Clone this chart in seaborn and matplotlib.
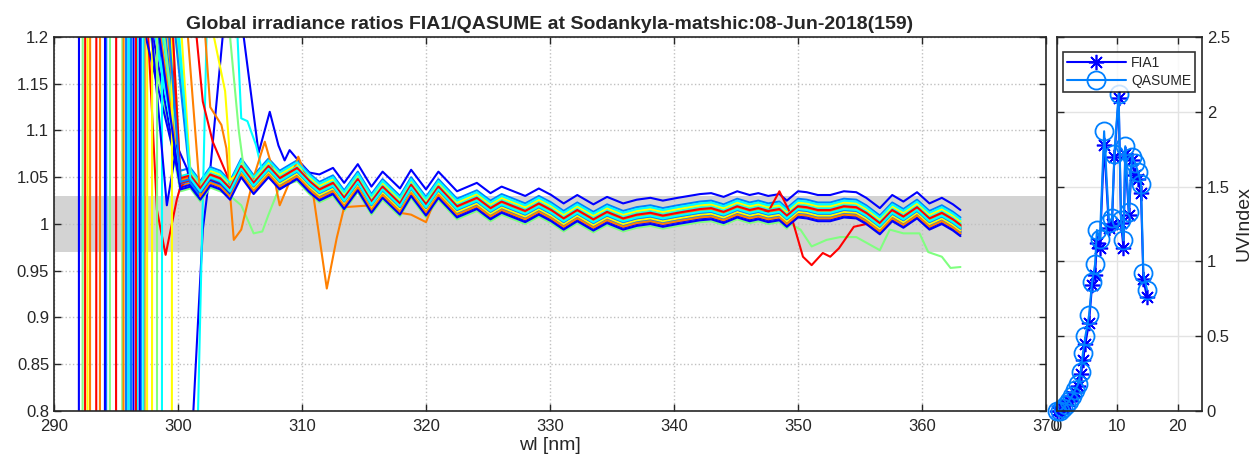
import numpy as np
import pandas as pd
import matplotlib
matplotlib.use("Agg")
import matplotlib.pyplot as plt
import seaborn as sns

# --- spectral ratio data ---
wl_grid = [300.2, 301.0, 301.8, 302.6, 303.4, 304.2, 305.1, 306.1, 307.3, 308.2,
           309.6, 310.6, 311.4, 312.5, 313.4, 314.5, 315.6, 316.5, 317.9, 318.8,
           320.0, 321.0, 322.5, 324.1, 325.2, 326.1, 328.0, 329.1, 330.1, 331.1,
           332.2, 333.5, 334.6, 335.9, 337.0, 338.1, 339.1, 340.3, 342.1, 343.0,
           344.0, 345.1, 346.1, 346.8, 347.6, 348.5, 349.1, 350.0, 350.7, 351.6,
           352.6, 353.7, 354.7, 355.5, 356.6, 357.6, 358.5, 359.6, 360.6, 361.6,
           362.5, 363.1]
ratio_typical = [1.045, 1.048, 1.034, 1.049, 1.045, 1.034, 1.058, 1.040, 1.058, 1.045,
                 1.056, 1.042, 1.033, 1.040, 1.024, 1.044, 1.020, 1.036, 1.018, 1.038,
                 1.017, 1.036, 1.015, 1.024, 1.013, 1.020, 1.010, 1.018, 1.011, 1.002,
                 1.011, 1.001, 1.009, 1.002, 1.006, 1.008, 1.005, 1.008, 1.012, 1.013,
                 1.009, 1.015, 1.011, 1.013, 1.010, 1.012, 1.005, 1.015, 1.014, 1.011,
                 1.011, 1.015, 1.014, 1.008, 0.997, 1.011, 1.004, 1.014, 1.002, 1.008,
                 1.001, 0.995]

# per scan: level relative to the typical ratio, wavelength of the short-wave
# jump, and wavelength where the curve comes down through 1.2
scan_level = [0.020, 0.012, 0.008, -0.010, 0.006, -0.004, 0.002,
              -0.006, 0.004, 0.006, 0.004, 0.008, 0.000, 0.003,
              0.001, -0.002, 0.010, 0.002, 0.005, 0.002, -0.001,
              -0.003, -0.004, 0.005, 0.000, -0.002, -0.005, 0.004,
              -0.008, 0.000, 0.001]
scan_rise = [301.2, 294.2, 301.6, 292.3, 292.7, 292.9, 292.5,
             292.0, 296.0, 296.7, 294.5, 297.5, 293.7, 293.4,
             294.1, 296.2, 298.7, 295.5, 297.9, 295.6, 295.0,
             296.4, 297.0, 296.0, 298.3, 299.5, 297.3, 296.6,
             296.9, 295.8, 297.2]
scan_exit = [305.3, 298.2, 304.8, 297.8, 298.6, 299.2, 301.5,
             298.0, 299.0, 298.8, 299.6, 299.9, 302.2, 297.6,
             297.4, 298.4, 300.0, 298.9, 300.3, 298.6, 299.4,
             297.9, 299.8, 298.2, 304.2, 302.9, 300.8, 299.6,
             298.5, 299.3, 300.1]

# individual features of some scans
special_wl = {
    0: [301.2, 302.0, 302.6, 303.6, 304.4, 305.3, 306.5, 307.4, 308.1, 308.6, 309.0, 309.7, 310.6],
    2: [301.6, 302.3, 303.5, 304.8, 305.1, 305.6, 306.3, 306.9],
    3: [304.2, 305.1, 306.1, 306.8, 307.3, 308.2,
        349.4, 350.2, 351.1, 352.3, 353.4, 354.7, 356.6, 357.4, 358.5, 359.8, 360.5, 361.6, 362.3, 363.1],
    6: [301.5, 302.0, 302.8, 303.7, 304.2],
    12: [302.2, 302.6, 303.5, 303.9, 304.5, 305.1, 306.1, 307.0, 307.6, 308.2, 309.0, 309.7,
         310.9, 312.0, 312.8, 313.4, 315.6, 316.5, 317.9, 318.8, 320.0],
    13: [297.6, 298.3, 299.0, 299.9, 300.2],
    20: [347.6, 348.5, 349.4, 350.4, 351.1, 352.0, 352.6, 353.3, 354.5, 355.5],
    21: [297.9, 299.1, 299.9, 300.7],
    24: [304.2, 304.9, 305.4],
    25: [302.9, 303.8, 304.1, 304.2],
}
special_ratio = {
    0: [0.790, 0.994, 1.058, 1.200, 1.300, 1.200, 1.076, 1.120, 1.084, 1.068, 1.079, 1.068, 1.055],
    2: [0.790, 1.200, 1.300, 1.200, 1.113, 1.110, 1.084, 1.050],
    3: [1.030, 1.020, 0.990, 0.992, 1.010, 1.040,
        1.000, 0.994, 0.976, 0.983, 0.986, 0.986, 0.972, 0.994, 0.990, 0.990, 0.970, 0.965, 0.953, 0.954],
    6: [1.200, 1.131, 1.088, 1.060, 1.045],
    12: [1.200, 1.125, 1.106, 1.081, 0.983, 0.994, 1.050, 1.088, 1.060, 1.020, 1.045, 1.072,
         1.032, 0.931, 0.985, 1.018, 1.020, 1.030, 1.012, 1.010, 1.002],
    13: [1.200, 1.015, 0.967, 1.026, 1.040],
    20: [1.013, 1.035, 1.011, 0.965, 0.956, 0.969, 0.965, 0.974, 0.997, 1.000],
    21: [1.200, 1.020, 1.084, 1.060],
    24: [1.200, 1.100, 1.050],
    25: [1.200, 1.142, 1.088, 1.047],
}

cycle_colors = [(0, 0, 1), (0, 0.5, 1), (0, 1, 1), (0.5, 1, 0.5),
                (1, 1, 0), (1, 0.5, 0), (1, 0, 0)]

# --- UV index time series ---
uv_time = [0.0, 0.5, 1.0, 1.5, 2.0, 2.5, 3.0, 3.5, 3.9, 4.3, 4.7, 5.3, 5.8, 6.3, 6.6, 7.1,
           7.8, 8.6, 9.1, 9.5, 10.2, 10.6, 11.0, 11.3, 11.9, 12.4, 12.9, 13.4, 13.9, 14.3, 14.9]
uv_fia1 = [0.00, 0.00, 0.02, 0.04, 0.07, 0.10, 0.13, 0.17, 0.25, 0.34, 0.45, 0.59, 0.84, 0.91,
           1.12, 1.09, 1.78, 1.22, 1.25, 1.70, 2.09, 1.26, 1.09, 1.72, 1.31, 1.68, 1.58, 1.55,
           1.46, 0.88, 0.76]
uv_qasume = [0.00, 0.00, 0.02, 0.04, 0.07, 0.10, 0.14, 0.18, 0.26, 0.39, 0.50, 0.64, 0.86, 0.98,
             1.21, 1.15, 1.87, 1.26, 1.29, 1.72, 2.12, 1.28, 1.14, 1.77, 1.33, 1.70, 1.66, 1.60,
             1.52, 0.92, 0.81]

rows = []
for i, lev in enumerate(scan_level):
    pts = [(290.0, 0.5), (scan_rise[i], 0.5), (scan_rise[i] + 0.03, 2.0), (scan_exit[i], 1.2)]
    pts += [(w, r + lev) for w, r in zip(wl_grid, ratio_typical) if w > scan_exit[i] + 0.4]
    if i in special_wl:
        ow, ov = special_wl[i], special_ratio[i]
        # replace the pieces covered by the individual features
        segs = []
        for k in range(len(ow)):
            if k == 0 or ow[k] - ow[k - 1] > 5:
                segs.append([ow[k], ow[k]])
            segs[-1][1] = ow[k]
        pts = [p for p in pts if not any(a <= p[0] <= b for a, b in segs)]
        pts += list(zip(ow, ov))
    pts.sort()
    for w, r in pts:
        rows.append({"scan": i, "wl": w, "ratio": r})
df = pd.DataFrame(rows)
palette = {i: cycle_colors[i % 7] for i in range(len(scan_level))}

sns.set_style("white")
plt.rcParams["font.family"] = ["Liberation Sans", "DejaVu Sans"]
plt.rcParams["font.size"] = 12

fig = plt.figure(figsize=(12.6, 4.73), dpi=100)
ax1 = fig.add_axes([54 / 1260, 62 / 473, 992 / 1260, 374 / 473])
ax2 = fig.add_axes([1057 / 1260, 62 / 473, 145 / 1260, 374 / 473])

ax1.axhspan(0.97, 1.03, color="#d3d3d3", lw=0, zorder=0.5)
sns.lineplot(data=df, x="wl", y="ratio", hue="scan", palette=palette, legend=False,
             sort=False, estimator=None, linewidth=1.5, ax=ax1)
ax1.set_xlim(290, 370)
ax1.set_ylim(0.8, 1.2)
ax1.set_xticks(range(290, 371, 10))
yt = np.round(np.arange(0.8, 1.2001, 0.05), 2)
ax1.set_yticks(yt)
ax1.set_yticklabels([f"{v:g}" for v in yt])
ax1.grid(True, ls=":", color="#c0c0c0", lw=1)
ax1.set_xlabel("wl [nm]", fontsize=14, labelpad=2)
ax1.set_ylabel("")
ax1.set_title("Global irradiance ratios FIA1/QASUME at Sodankyla-matshic:08-Jun-2018(159)",
              fontsize=14, fontweight="bold", pad=6)

sns.lineplot(x=uv_time, y=uv_fia1, ax=ax2, color=(0, 0, 1), marker=(8, 2, 0), ms=11,
             mew=1.2, mec=(0, 0, 1), lw=1.5, label="FIA1", sort=False, clip_on=False)
sns.lineplot(x=uv_time, y=uv_qasume, ax=ax2, color=(0, 0.5, 1), marker="o", ms=13,
             mfc="none", mec=(0, 0.5, 1), mew=1.3, lw=1.5, label="QASUME", sort=False,
             clip_on=False)
ax2.set_xlim(0, 24)
ax2.set_ylim(0, 2.5)
ax2.set_xticks([0, 10, 20])
ax2.set_yticks([0, 0.5, 1, 1.5, 2, 2.5])
ax2.set_yticklabels(["0", "0.5", "1", "1.5", "2", "2.5"])
ax2.yaxis.tick_right()
ax2.yaxis.set_label_position("right")
ax2.set_ylabel("UVIndex", fontsize=14)
ax2.grid(True, ls="-", color="#e3e3e3", lw=1)
leg = ax2.legend(loc="upper left", bbox_to_anchor=(6 / 145, 1 - 15 / 374), borderaxespad=0,
                 fontsize=10, frameon=True, fancybox=False, edgecolor="black",
                 handlelength=4.2, handletextpad=0.4, borderpad=0.3, labelspacing=0.25)
leg.get_frame().set_linewidth(1.2)

for ax in (ax1, ax2):
    ax.tick_params(direction="in", top=True, right=True, left=True, bottom=True,
                   length=5, width=1, colors="#262626", labelsize=12)
    for s in ax.spines.values():
        s.set_color("#262626")
        s.set_linewidth(1.2)
ax1.tick_params(axis="x", pad=6)
ax2.tick_params(axis="x", pad=6)
ax2.tick_params(labelleft=False, labelright=True)

fig.savefig("out.png", dpi=100)
